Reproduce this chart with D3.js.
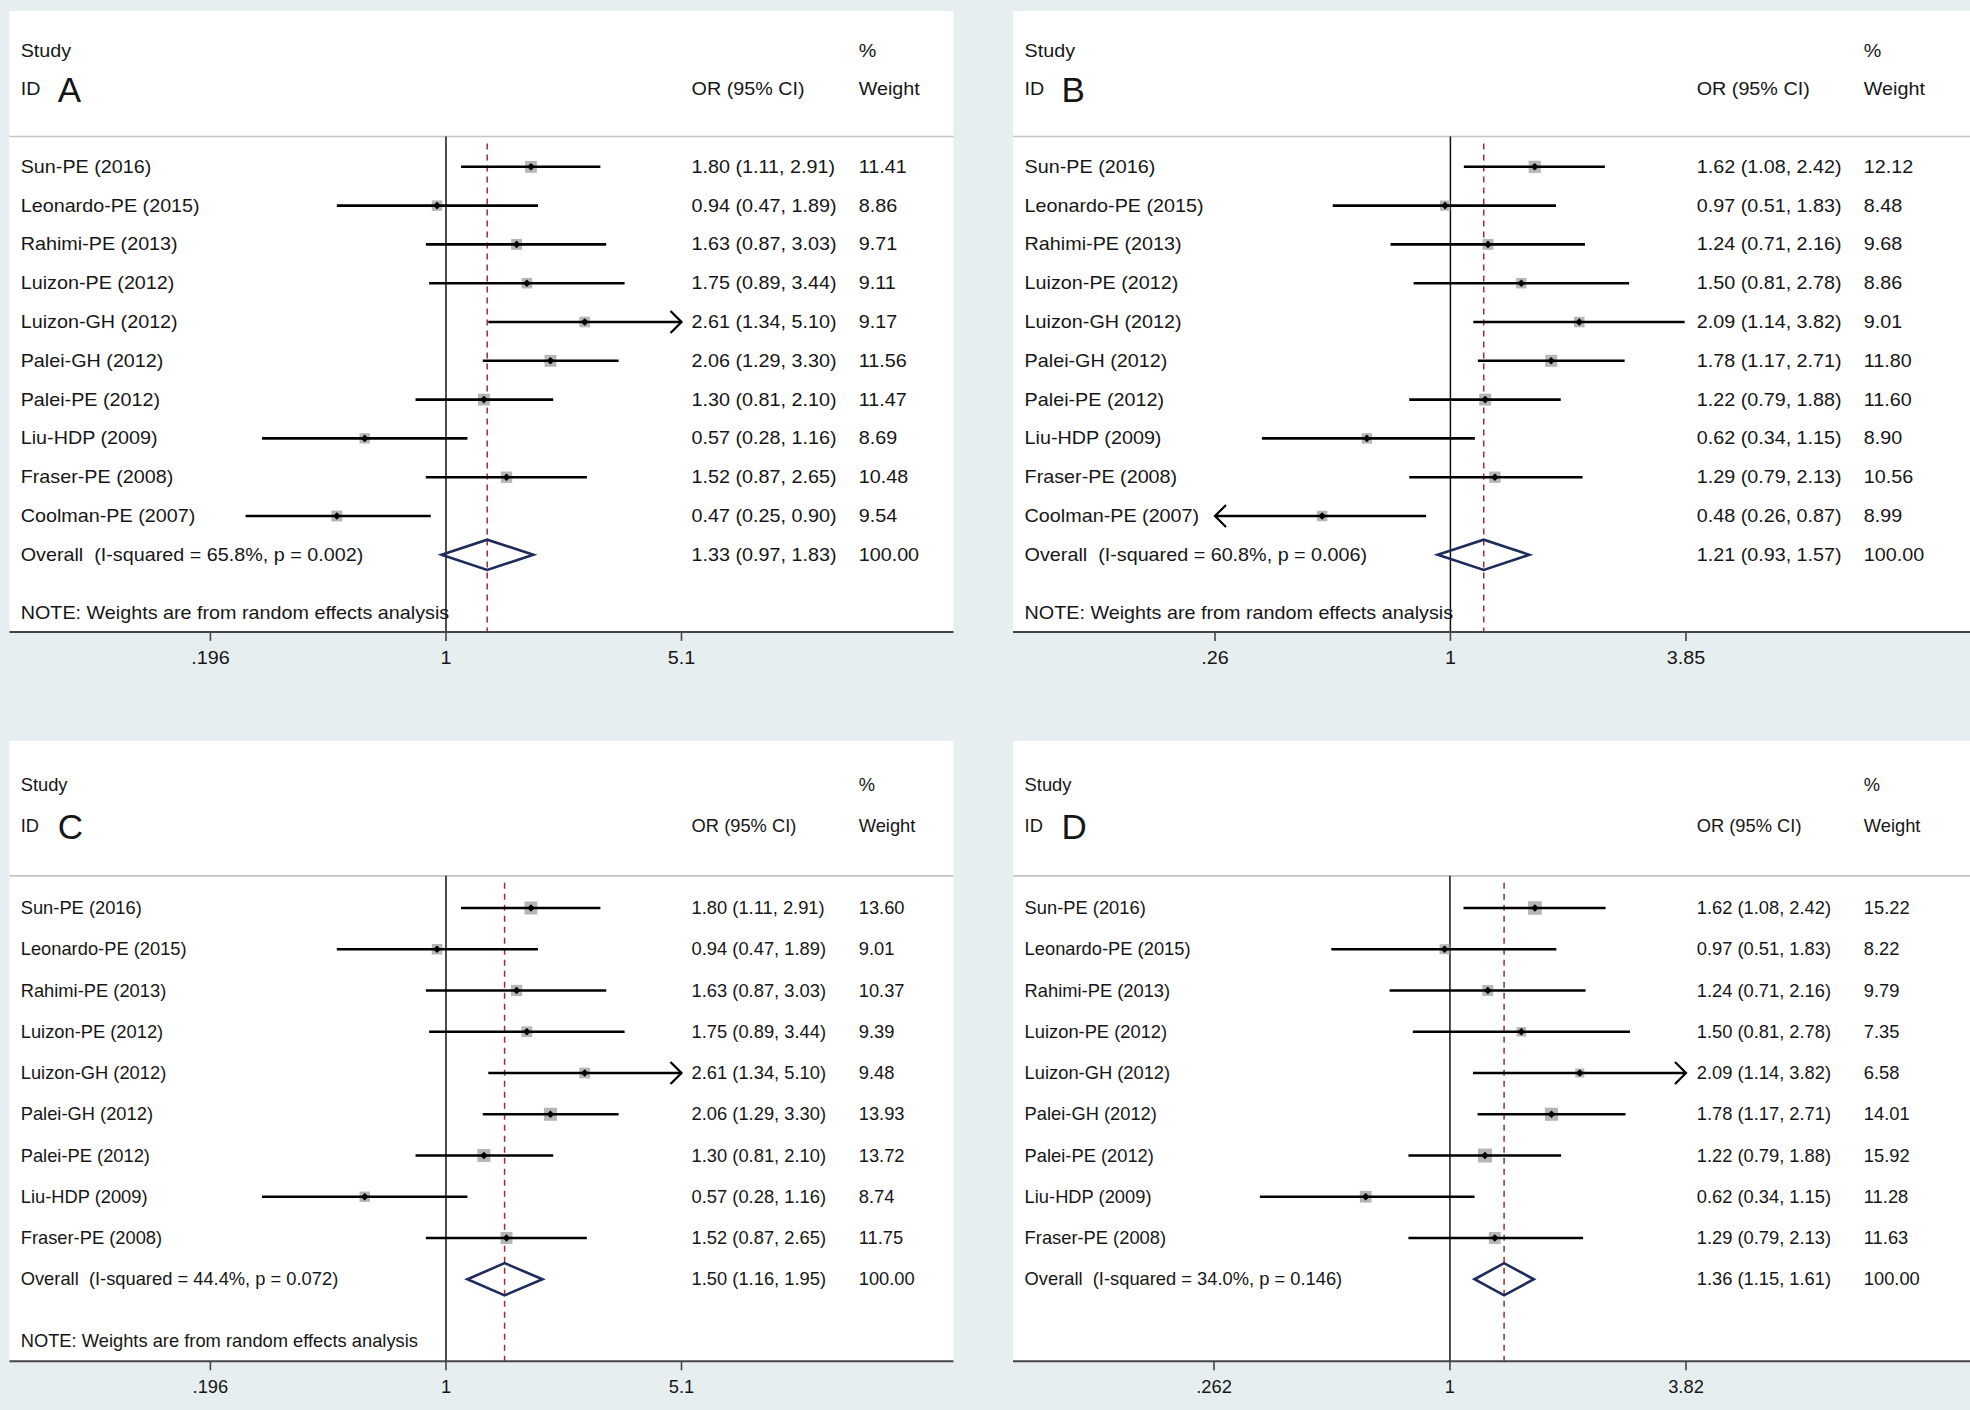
<!DOCTYPE html>
<html>
<head>
<meta charset="utf-8">
<script src="https://cdn.jsdelivr.net/npm/d3@7"></script>
<style>
  html, body { margin: 0; padding: 0; background: #e7eef0; }
  svg { display: block; }
  text { font-family: "Liberation Sans", Arial, sans-serif; fill: #161616; white-space: pre; }
</style>
</head>
<body>
<svg id="chart" width="1970" height="1410"></svg>
<script>
// study labels
const studiesAB = ["Sun-PE (2016)", "Leonardo-PE (2015)", "Rahimi-PE (2013)", "Luizon-PE (2012)",
  "Luizon-GH (2012)", "Palei-GH (2012)", "Palei-PE (2012)", "Liu-HDP (2009)", "Fraser-PE (2008)",
  "Coolman-PE (2007)"];
const studiesCD = studiesAB.slice(0, 9);

// panel A / C odds ratios
const orA = [1.80, 0.94, 1.63, 1.75, 2.61, 2.06, 1.30, 0.57, 1.52, 0.47];
const lowA = [1.11, 0.47, 0.87, 0.89, 1.34, 1.29, 0.81, 0.28, 0.87, 0.25];
const highA = [2.91, 1.89, 3.03, 3.44, 5.10, 3.30, 2.10, 1.16, 2.65, 0.90];
const weightA = [11.41, 8.86, 9.71, 9.11, 9.17, 11.56, 11.47, 8.69, 10.48, 9.54];
const weightC = [13.60, 9.01, 10.37, 9.39, 9.48, 13.93, 13.72, 8.74, 11.75];

// panel B / D odds ratios
const orB = [1.62, 0.97, 1.24, 1.50, 2.09, 1.78, 1.22, 0.62, 1.29, 0.48];
const lowB = [1.08, 0.51, 0.71, 0.81, 1.14, 1.17, 0.79, 0.34, 0.79, 0.26];
const highB = [2.42, 1.83, 2.16, 2.78, 3.82, 2.71, 1.88, 1.15, 2.13, 0.87];
const weightB = [12.12, 8.48, 9.68, 8.86, 9.01, 11.80, 11.60, 8.90, 10.56, 8.99];
const weightD = [15.22, 8.22, 9.79, 7.35, 6.58, 14.01, 15.92, 11.28, 11.63];

// overall: [OR, low, high], heterogeneity: [I-squared %, p]
const overallA = [1.33, 0.97, 1.83], hetA = [65.8, 0.002];
const overallB = [1.21, 0.93, 1.57], hetB = [60.8, 0.006];
const overallC = [1.50, 1.16, 1.95], hetC = [44.4, 0.072];
const overallD = [1.36, 1.15, 1.61], hetD = [34.0, 0.146];

// axis ticks
const ticksAC = [0.196, 1, 5.1], tickLabelsAC = [".196", "1", "5.1"];
const ticksB = [0.26, 1, 3.85], tickLabelsB = [".26", "1", "3.85"];
const ticksD = [0.262, 1, 3.82], tickLabelsD = [".262", "1", "3.82"];

const svg = d3.select("#chart");
svg.append("rect").attr("width", 1970).attr("height", 1410).attr("fill", "#e7eef0");

const fs = 17.8;

let drawPanel = (p) => {
  let g = svg.append("g");
  let n = p.studies.length;
  let x = d3.scaleLog().domain([p.ticks[0], p.ticks[2]]).range(p.tickRange);
  let y = d3.scaleLinear().domain([0, 1]).range([p.rowTop, p.rowTop + p.step]);
  let box = d3.scaleSqrt().domain([0, 16]).range([0, 14]);
  let axisY = y(n + 2) - 0.5;
  let sepY = y(-0.78);

  let txt = (s, tx, ty, anchor, size, sx) => g.append("text")
    .attr("transform", `translate(${tx},${ty}) scale(${sx === undefined ? p.sx : sx},1)`)
    .attr("text-anchor", anchor || "start")
    .style("font-size", (size || fs) + "px")
    .text(s);

  // white plot area
  g.append("rect").attr("x", p.left).attr("y", p.top)
    .attr("width", p.right - p.left).attr("height", axisY - p.top).attr("fill", "#fff");

  // header
  txt("Study", p.colLabel, p.head1);
  txt("%", p.colW, p.head1);
  txt("ID", p.colLabel, p.head2);
  txt("OR (95% CI)", p.colOR, p.head2);
  txt("Weight", p.colW, p.head2);
  txt(p.letter, p.colLabel + 37, p.head2 + 7, "start", 35, 1);
  g.append("line").attr("x1", p.left).attr("x2", p.right).attr("y1", sepY).attr("y2", sepY)
    .attr("stroke", "#c4c4c4").attr("stroke-width", 1.6);

  // null line and pooled estimate line
  g.append("line").attr("x1", x(1)).attr("x2", x(1)).attr("y1", sepY).attr("y2", axisY)
    .attr("stroke", "#111").attr("stroke-width", 1.5);
  g.append("line").attr("x1", x(p.overall[0])).attr("x2", x(p.overall[0]))
    .attr("y1", sepY + 7).attr("y2", axisY)
    .attr("stroke", "#9a2d3c").attr("stroke-width", 1.5).attr("stroke-dasharray", "6,5");

  // studies
  p.studies.forEach((s, i) => {
    let yy = y(i);
    let lo = Math.max(p.low[i], p.ticks[0]), hi = Math.min(p.high[i], p.ticks[2]);
    let side = box(p.weight[i]);
    g.append("rect").attr("x", x(p.or[i]) - side / 2).attr("y", yy - side / 2)
      .attr("width", side).attr("height", side).attr("fill", "#b6b6b6");
    g.append("line").attr("x1", x(lo)).attr("x2", x(hi)).attr("y1", yy).attr("y2", yy)
      .attr("stroke", "#000").attr("stroke-width", 2.6);
    if (p.high[i] >= p.ticks[2]) {
      let ax = x(p.ticks[2]);
      g.append("path").attr("d", `M${ax - 11},${yy - 11} L${ax},${yy} L${ax - 11},${yy + 11}`)
        .attr("fill", "none").attr("stroke", "#000").attr("stroke-width", 2.2);
    }
    if (p.low[i] <= p.ticks[0]) {
      let ax = x(p.ticks[0]);
      g.append("path").attr("d", `M${ax + 11},${yy - 11} L${ax},${yy} L${ax + 11},${yy + 11}`)
        .attr("fill", "none").attr("stroke", "#000").attr("stroke-width", 2.2);
    }
    g.append("path").attr("transform", `translate(${x(p.or[i])},${yy})`)
      .attr("d", "M0,-3.8 L3.8,0 L0,3.8 L-3.8,0 Z").attr("fill", "#000");
    txt(s, p.colLabel, yy + 6);
    txt(`${p.or[i].toFixed(2)} (${p.low[i].toFixed(2)}, ${p.high[i].toFixed(2)})`, p.colOR, yy + 6);
    txt(p.weight[i].toFixed(2), p.colW, yy + 6);
  });

  // overall diamond
  let oy = y(n), dh = 0.39 * p.step;
  g.append("path")
    .attr("d", `M${x(p.overall[1])},${oy} L${x(p.overall[0])},${oy - dh} L${x(p.overall[2])},${oy} L${x(p.overall[0])},${oy + dh} Z`)
    .attr("fill", "none").attr("stroke", "#1e2b5c").attr("stroke-width", 2.6);
  txt(`Overall  (I-squared = ${p.het[0].toFixed(1)}%, p = ${p.het[1].toFixed(3)})`, p.colLabel, oy + 6);
  txt(`${p.overall[0].toFixed(2)} (${p.overall[1].toFixed(2)}, ${p.overall[2].toFixed(2)})`, p.colOR, oy + 6);
  txt("100.00", p.colW, oy + 6);

  if (p.note) txt("NOTE: Weights are from random effects analysis", p.colLabel, y(n + 1.5) + 6);

  // x axis
  g.append("line").attr("x1", p.left).attr("x2", p.right).attr("y1", axisY).attr("y2", axisY)
    .attr("stroke", "#444").attr("stroke-width", 2);
  p.ticks.forEach((t, i) => {
    g.append("line").attr("x1", x(t)).attr("x2", x(t)).attr("y1", axisY).attr("y2", axisY + 9)
      .attr("stroke", "#444").attr("stroke-width", 1.6);
    txt(p.tickLabels[i], x(t), axisY + 32, "middle");
  });
};

drawPanel({letter: "A", studies: studiesAB, or: orA, low: lowA, high: highA, weight: weightA,
  overall: overallA, het: hetA, ticks: ticksAC, tickLabels: tickLabelsAC, note: true,
  left: 9.5, right: 953.5, top: 11, head1: 56.5, head2: 95, rowTop: 166.8, step: 38.8,
  tickRange: [210.4, 681.5], colLabel: 20.7, colOR: 691.6, colW: 858.7, sx: 1.11});

drawPanel({letter: "B", studies: studiesAB, or: orB, low: lowB, high: highB, weight: weightB,
  overall: overallB, het: hetB, ticks: ticksB, tickLabels: tickLabelsB, note: true,
  left: 1013, right: 1970, top: 11, head1: 56.5, head2: 95, rowTop: 166.8, step: 38.8,
  tickRange: [1215, 1686], colLabel: 1024.6, colOR: 1696.7, colW: 1863.8, sx: 1.11});

drawPanel({letter: "C", studies: studiesCD, or: orA.slice(0, 9), low: lowA.slice(0, 9), high: highA.slice(0, 9),
  weight: weightC, overall: overallC, het: hetC, ticks: ticksAC, tickLabels: tickLabelsAC, note: true,
  left: 9.5, right: 953.5, top: 741, head1: 790.5, head2: 831.5, rowTop: 908, step: 41.25,
  tickRange: [210.4, 681.5], colLabel: 20.7, colOR: 691.6, colW: 858.7, sx: 1.03});

drawPanel({letter: "D", studies: studiesCD, or: orB.slice(0, 9), low: lowB.slice(0, 9), high: highB.slice(0, 9),
  weight: weightD, overall: overallD, het: hetD, ticks: ticksD, tickLabels: tickLabelsD, note: false,
  left: 1013, right: 1970, top: 741, head1: 790.5, head2: 831.5, rowTop: 908, step: 41.25,
  tickRange: [1214, 1686], colLabel: 1024.6, colOR: 1696.7, colW: 1863.8, sx: 1.03});
</script>
</body>
</html>
